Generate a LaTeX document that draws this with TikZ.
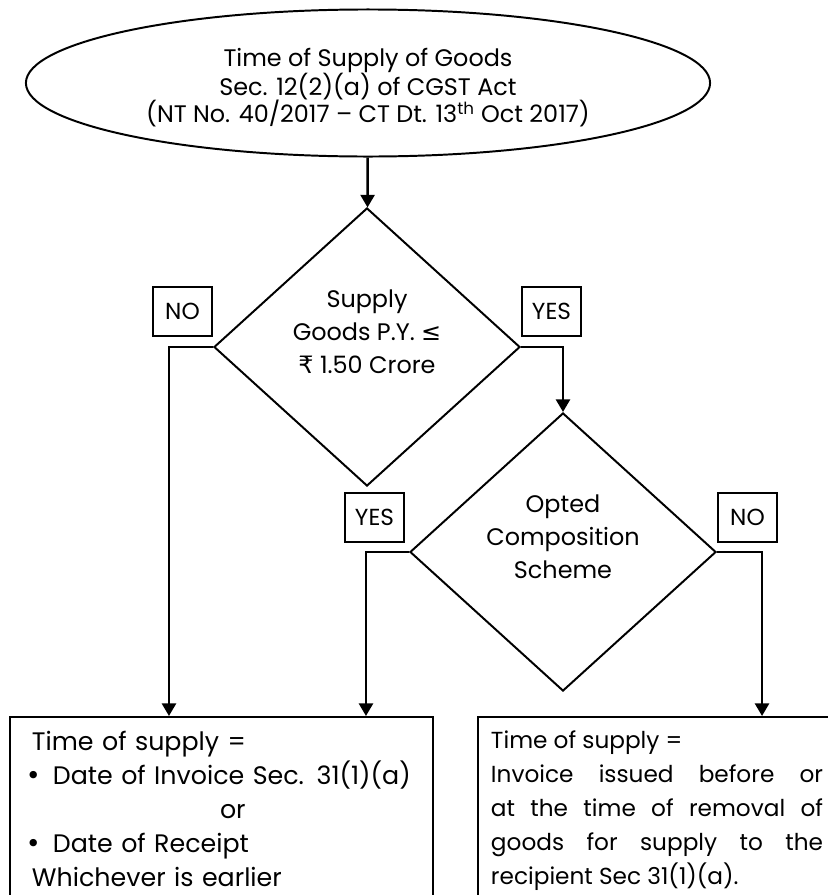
\documentclass[tikz,border=0pt]{standalone}
\usepackage{fontspec}
\setmainfont{Poppins}
\newfontfamily\symfont{DejaVu Sans}
\usetikzlibrary{shapes.geometric, arrows.meta, positioning, calc}

\begin{document}
\begin{tikzpicture}[
  x=0.025cm, y=-0.025cm,
  line width=1.4pt,
  start/.style={ellipse, draw, minimum width=17.1cm, minimum height=3.675cm, align=center, text height=60pt, font=\fontsize{17}{19.2}\selectfont},
  decision/.style={diamond, draw, minimum width=7.65cm, minimum height=6.95cm, inner sep=0pt, align=center, text depth=0.75cm, font=\fontsize{17}{23.5}\selectfont},
  tag/.style={rectangle, draw, minimum width=1.475cm, minimum height=1.225cm, inner sep=0pt, font=\fontsize{16.5}{18}\selectfont},
  result/.style={rectangle, draw, anchor=north west, inner xsep=0.55cm, inner ysep=0.35cm, font=\fontsize{18}{24.2}\selectfont},
  arrow/.style={-{Triangle[width=10pt, length=9pt]}, line width=1.8pt}
]
  \useasboundingbox (0,0) rectangle (828,895);
  \clip (0,0) rectangle (828,895);

  \node[start] (title) at (368,83) {Time of Supply of Goods\\Sec. 12(2)(a) of CGST Act\\(NT No. 40/2017 -- CT Dt. 13\textsuperscript{th} Oct 2017)};
  \node[decision] (limit) at (367,347) {Supply\\Goods P.Y. {\symfont ≤}\\{\symfont ₹} 1.50 Crore};
  \node[decision] (optcomp) at (563,552) {Opted\\Composition\\Scheme};

  \node[tag, above left=0.25cm and 0cm of limit.west] (no1) {NO};
  \node[tag, above right=0.25cm and 0cm of limit.east] (yes1) {YES};
  \node[tag, above left=0.23cm and 0.1cm of optcomp.west] (yes2) {YES};
  \node[tag, above right=0.23cm and 0cm of optcomp.east] (no2) {NO};

  \node[result, text width=9.475cm, align=left] (earlier) at (9,716) {Time of supply =\\
    \mbox{\hspace*{-0.15cm}{\symfont •}\hspace{0.3cm}Date of Invoice Sec. 31(1)(a)}\\
    \hspace*{4.7cm}or\\
    \hspace*{-0.15cm}{\symfont •}\hspace{0.3cm}Date of Receipt\\
    Whichever is earlier\\};
  \node[result, text width=8.3cm, inner xsep=0.325cm, align=justify, font=\fontsize{16.5}{24.2}\selectfont] (invoice) at (477,716) {Time of supply =\\
    Invoice issued before or\linebreak
    at the time of removal of\linebreak
    goods for supply to the\linebreak
    recipient Sec 31(1)(a).\\ \mbox{}};

  \draw[arrow] (title) -- (limit);
  \draw[arrow] (limit.east) -| (optcomp.north);
  \draw[arrow] (limit.west) -- ++(-44,0) coordinate (noturn) -- (noturn |- earlier.north);
  \draw[arrow] (optcomp.west) -- ++(-43,0) coordinate (yesturn) -- (yesturn |- earlier.north);
  \draw[arrow] (optcomp.east) -- ++(45,0) coordinate (nextturn) -- (nextturn |- invoice.north);
\end{tikzpicture}
\end{document}
